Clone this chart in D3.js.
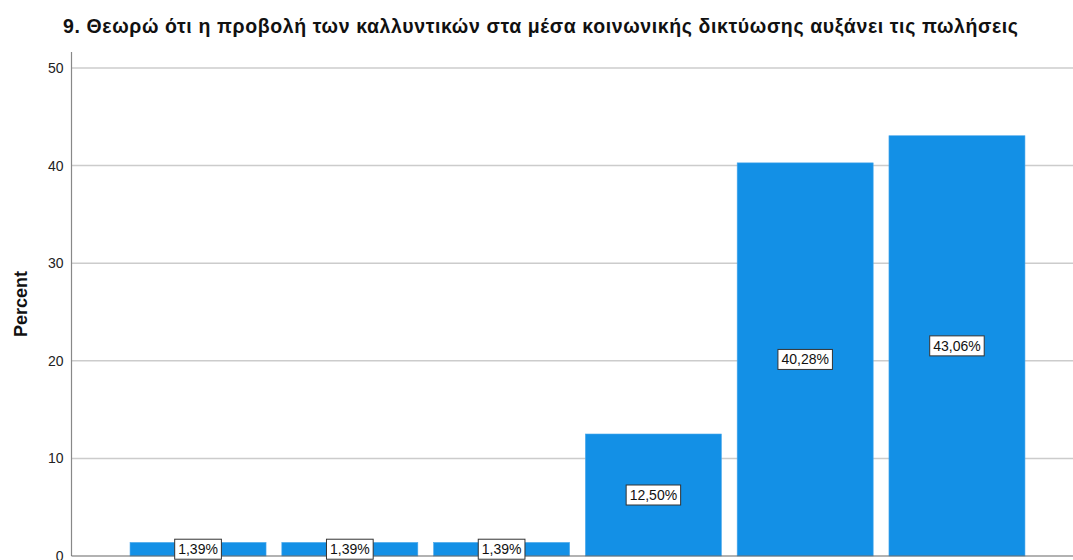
<!DOCTYPE html>
<html>
<head>
<meta charset="utf-8">
<script src="https://cdn.jsdelivr.net/npm/d3@7"></script>
<style>
  html, body { margin: 0; padding: 0; background: #fff; }
  svg { display: block; }
  text { font-family: "Liberation Sans", Arial, sans-serif; }
</style>
</head>
<body>
<svg id="chart" width="1073" height="560"></svg>
<script>
const title = "9. Θεωρώ ότι η προβολή των καλλυντικών στα μέσα κοινωνικής δικτύωσης αυξάνει τις πωλήσεις";
const yLabel = "Percent";
const categories = ["c1", "c2", "c3", "c4", "c5", "c6"];
const values = [1.39, 1.39, 1.39, 12.50, 40.28, 43.06];
const labels = ["1,39%", "1,39%", "1,39%", "12,50%", "40,28%", "43,06%"];
const yTicks = [0, 10, 20, 30, 40, 50];

const svg = d3.select("#chart");
const W = 1073, H = 560;
const axisX = 71.5, axisTop = 52, y0 = 556, y50 = 68;

const x = d3.scaleBand()
  .domain(categories)
  .range([71, 1084])
  .paddingInner(0.104)
  .paddingOuter(0.389);

const y = d3.scaleLinear().domain([0, 50]).range([y0, y50]);

// gridlines
svg.append("g")
  .selectAll("line")
  .data(yTicks.filter(d => d > 0))
  .join("line")
  .attr("x1", axisX).attr("x2", W)
  .attr("y1", d => y(d)).attr("y2", d => y(d))
  .attr("stroke", "#cccccc").attr("stroke-width", 1.5);

// y axis via d3
const yAxis = d3.axisLeft(y).tickValues(yTicks).tickSize(0).tickPadding(8);
const gy = svg.append("g").attr("transform", `translate(${axisX},0)`).call(yAxis);
gy.select(".domain").remove();
gy.selectAll("text")
  .attr("font-family", "Liberation Sans, Arial, sans-serif")
  .attr("font-size", 14).attr("fill", "#222");

svg.append("line")
  .attr("x1", axisX).attr("x2", axisX)
  .attr("y1", axisTop).attr("y2", y0)
  .attr("stroke", "#888").attr("stroke-width", 1.2);

// bars
svg.append("g")
  .selectAll("rect")
  .data(values)
  .join("rect")
  .attr("x", (d, i) => x(categories[i]))
  .attr("width", x.bandwidth())
  .attr("y", d => y(d))
  .attr("height", d => y(0) - y(d))
  .attr("fill", "#1390e6")
  .attr("stroke", "#4aa8ec").attr("stroke-width", 0.6);

// baseline
svg.append("line")
  .attr("x1", axisX).attr("x2", W)
  .attr("y1", y0).attr("y2", y0)
  .attr("stroke", "#666").attr("stroke-width", 1.2);

// value labels
const lg = svg.append("g");
values.forEach((v, i) => {
  const cx = x(categories[i]) + x.bandwidth() / 2;
  const cy = y(v / 2);
  const g = lg.append("g");
  const t = g.append("text")
    .attr("x", cx).attr("y", cy)
    .attr("text-anchor", "middle")
    .attr("dominant-baseline", "central")
    .attr("font-size", 14).attr("fill", "#111")
    .text(labels[i]);
  const bb = t.node().getBBox();
  g.insert("rect", "text")
    .attr("x", cx - bb.width / 2 - 3.5)
    .attr("y", cy - 10)
    .attr("width", bb.width + 7)
    .attr("height", 20)
    .attr("fill", "#fff")
    .attr("stroke", "#333").attr("stroke-width", 1);
});

// title
svg.append("text")
  .attr("x", 63).attr("y", 33)
  .attr("font-size", 19.5).attr("font-weight", "bold").attr("fill", "#111")
  .attr("textLength", 955).attr("lengthAdjust", "spacing")
  .text(title);

// y label
svg.append("text")
  .attr("transform", `translate(27,304) rotate(-90)`)
  .attr("text-anchor", "middle")
  .attr("font-size", 18).attr("font-weight", "bold").attr("fill", "#111")
  .text(yLabel);
</script>
</body>
</html>
